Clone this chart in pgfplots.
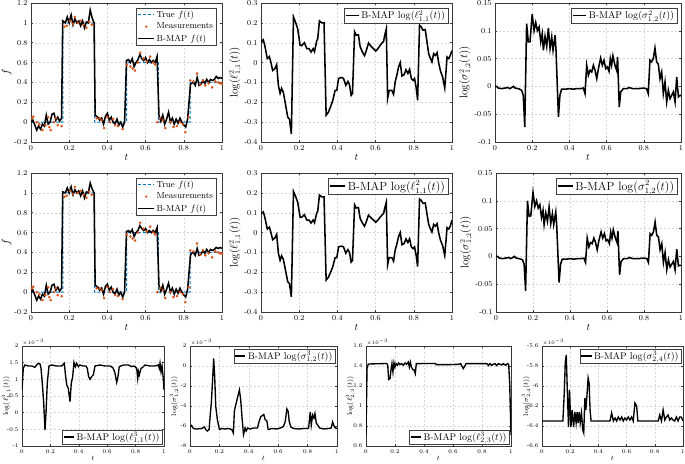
\documentclass[border=0pt]{standalone}
\usepackage{pgfplots}
\pgfplotsset{compat=1.18}
\usepackage{pgfplotstable}
\definecolor{mblue}{rgb}{0,0.447,0.741}
\definecolor{morange}{rgb}{0.85,0.325,0.098}
\newcommand{\fs}[1]{\fontsize{#1}{#1}\selectfont}

\pgfplotstableread{
t f
0 0
0.16666 0
0.16667 1
0.33333 1
0.33334 0
0.5 0
0.50001 0.6
0.66666 0.6
0.66667 0
0.83333 0
0.83334 0.4
1 0.4
}\ftrue

\pgfplotstableread{
t f
0.005 0.04
0.012 0.055
0.03 0.0
0.044 -0.02
0.06 -0.08
0.075 -0.03
0.09 0.05
0.096 -0.05
0.103 -0.08
0.12 0.0
0.13 0.04
0.14 -0.03
0.16 -0.04
0.175 0.96
0.187 0.97
0.205 1.02
0.22 0.99
0.23 1.06
0.245 1.00
0.26 1.02
0.275 0.98
0.29 0.95
0.305 1.01
0.318 0.98
0.344 0.04
0.36 0.04
0.37 0.02
0.383 -0.06
0.40 0.05
0.414 0.0
0.43 0.03
0.44 -0.03
0.455 -0.04
0.48 -0.07
0.502 0.58
0.52 0.56
0.533 0.54
0.545 0.52
0.56 0.6
0.572 0.70
0.59 0.64
0.607 0.61
0.624 0.66
0.64 0.60
0.65 0.58
0.662 0.0
0.676 0.04
0.69 0.02
0.703 -0.06
0.73 0.0
0.746 -0.05
0.764 -0.04
0.78 0.0
0.795 -0.02
0.808 -0.10
0.825 0.05
0.834 0.42
0.85 0.41
0.869 0.49
0.886 0.38
0.90 0.42
0.913 0.37
0.93 0.39
0.948 0.35
0.965 0.41
0.98 0.40
0.99 0.39
1.0 0.39
}\fmeas

\pgfplotstableread{
t f
0 0.00
0.01 0.02
0.02 -0.03
0.03 -0.08
0.04 -0.04
0.05 -0.07
0.06 -0.02
0.07 -0.04
0.08 0.07
0.09 -0.02
0.10 0.00
0.11 0.08
0.12 0.09
0.13 0.02
0.14 0.05
0.15 0.01
0.16 0.04
0.166 1.02
0.18 1.00
0.19 1.06
0.20 1.00
0.21 1.08
0.22 0.98
0.23 1.04
0.24 1.00
0.25 1.02
0.26 0.97
0.27 1.02
0.28 0.95
0.29 1.01
0.30 1.00
0.31 1.13
0.32 1.05
0.33 1.00
0.336 0.07
0.35 0.05
0.36 0.02
0.37 0.04
0.38 -0.02
0.39 0.06
0.40 0.09
0.41 0.02
0.42 0.05
0.43 0.00
0.44 -0.02
0.45 0.03
0.46 -0.03
0.47 0.00
0.48 -0.05
0.49 0.00
0.50 0.62
0.51 0.63
0.52 0.60
0.53 0.64
0.54 0.56
0.55 0.60
0.56 0.63
0.57 0.68
0.58 0.64
0.59 0.62
0.60 0.65
0.61 0.60
0.62 0.63
0.63 0.60
0.64 0.62
0.65 0.60
0.66 0.66
0.67 0.07
0.68 0.01
0.69 0.07
0.70 -0.02
0.71 0.03
0.72 0.10
0.73 0.00
0.74 0.04
0.75 -0.02
0.76 0.03
0.77 -0.01
0.78 0.04
0.79 0.00
0.80 -0.03
0.81 -0.05
0.82 0.03
0.835 0.38
0.84 0.39
0.85 0.40
0.86 0.37
0.87 0.45
0.88 0.37
0.89 0.38
0.90 0.42
0.91 0.39
0.92 0.43
0.93 0.40
0.94 0.43
0.95 0.42
0.96 0.43
0.97 0.46
0.98 0.44
0.99 0.45
1.00 0.44
}\fmapA

\pgfplotstableread{
t f
0 0.00
0.01 0.02
0.02 -0.03
0.03 -0.08
0.04 -0.04
0.05 -0.07
0.06 -0.02
0.07 -0.04
0.08 0.07
0.09 -0.02
0.10 0.00
0.11 0.07
0.12 0.08
0.13 0.02
0.14 0.05
0.15 0.01
0.16 0.04
0.166 1.01
0.18 1.00
0.19 1.05
0.20 1.00
0.21 1.06
0.22 0.98
0.23 1.03
0.24 1.00
0.25 1.02
0.26 0.97
0.27 1.02
0.28 0.95
0.29 1.01
0.30 1.00
0.31 1.10
0.32 1.04
0.33 1.00
0.336 0.07
0.35 0.05
0.36 0.02
0.37 0.04
0.38 -0.02
0.39 0.06
0.40 0.08
0.41 0.02
0.42 0.05
0.43 0.00
0.44 -0.02
0.45 0.03
0.46 -0.03
0.47 0.00
0.48 -0.05
0.49 0.00
0.50 0.61
0.51 0.62
0.52 0.60
0.53 0.63
0.54 0.56
0.55 0.60
0.56 0.62
0.57 0.67
0.58 0.64
0.59 0.62
0.60 0.64
0.61 0.60
0.62 0.62
0.63 0.60
0.64 0.62
0.65 0.60
0.66 0.65
0.67 0.07
0.68 0.01
0.69 0.07
0.70 -0.02
0.71 0.03
0.72 0.09
0.73 0.00
0.74 0.04
0.75 -0.02
0.76 0.03
0.77 -0.01
0.78 0.04
0.79 0.00
0.80 -0.03
0.81 -0.05
0.82 0.03
0.835 0.37
0.84 0.39
0.85 0.40
0.86 0.37
0.87 0.44
0.88 0.37
0.89 0.38
0.90 0.42
0.91 0.39
0.92 0.43
0.93 0.40
0.94 0.43
0.95 0.42
0.96 0.43
0.97 0.45
0.98 0.44
0.99 0.45
1.00 0.44
}\fmapB

\pgfplotstableread{
t v
0 0.105
0.012 0.115
0.02 0.085
0.033 0.02
0.044 0.03
0.052 0.0
0.061 -0.04
0.073 -0.03
0.082 -0.01
0.091 -0.115
0.1 -0.155
0.108 -0.13
0.117 -0.15
0.13 -0.22
0.14 -0.275
0.149 -0.285
0.159 -0.36
0.17 0.23
0.182 0.2
0.192 0.17
0.205 0.087
0.213 0.085
0.227 0.1
0.24 0.07
0.252 0.07
0.262 0.053
0.273 0.07
0.28 0.055
0.292 0.11
0.297 0.12
0.306 0.21
0.318 0.2
0.33 0.2
0.341 -0.265
0.353 -0.25
0.367 -0.215
0.376 -0.19
0.388 -0.14
0.397 -0.14
0.406 -0.08
0.423 -0.075
0.432 -0.08
0.444 -0.115
0.455 -0.095
0.463 -0.11
0.472 -0.165
0.479 -0.155
0.49 0.155
0.498 0.138
0.51 0.14
0.519 0.08
0.531 0.053
0.542 0.035
0.551 0.06
0.563 0.098
0.575 0.083
0.589 0.07
0.601 0.058
0.612 0.07
0.624 0.087
0.633 0.098
0.642 0.107
0.647 0.134
0.656 0.17
0.663 -0.18
0.671 -0.14
0.685 -0.14
0.694 -0.16
0.703 -0.095
0.711 -0.065
0.72 -0.023
0.729 0.0
0.738 -0.068
0.75 -0.06
0.759 -0.036
0.769 -0.055
0.778 -0.034
0.787 -0.08
0.796 -0.09
0.804 -0.08
0.813 -0.13
0.82 -0.19
0.83 0.188
0.839 0.18
0.848 0.163
0.86 0.166
0.869 0.104
0.878 0.045
0.886 0.023
0.895 0.003
0.904 0.045
0.913 0.036
0.922 0.05
0.93 0.0
0.939 -0.04
0.951 -0.073
0.962 -0.128
0.969 -0.04
0.974 0.028
0.983 0.02
0.991 0.036
1.0 0.06
}\lA

\pgfplotstableread{
t v
0 0.095
0.012 0.104
0.02 0.077
0.033 0.018
0.044 0.027
0.052 0.0
0.061 -0.036
0.073 -0.027
0.082 -0.009
0.091 -0.104
0.1 -0.14
0.108 -0.117
0.117 -0.135
0.13 -0.198
0.14 -0.248
0.149 -0.257
0.159 -0.324
0.17 0.207
0.182 0.18
0.192 0.153
0.205 0.078
0.213 0.077
0.227 0.09
0.24 0.063
0.252 0.063
0.262 0.048
0.273 0.063
0.28 0.05
0.292 0.099
0.297 0.108
0.306 0.189
0.318 0.18
0.33 0.18
0.341 -0.239
0.353 -0.225
0.367 -0.194
0.376 -0.171
0.388 -0.126
0.397 -0.126
0.406 -0.072
0.423 -0.068
0.432 -0.072
0.444 -0.104
0.455 -0.086
0.463 -0.099
0.472 -0.149
0.479 -0.14
0.49 0.14
0.498 0.124
0.51 0.126
0.519 0.072
0.531 0.048
0.542 0.032
0.551 0.054
0.563 0.088
0.575 0.075
0.589 0.063
0.601 0.052
0.612 0.063
0.624 0.078
0.633 0.088
0.642 0.096
0.647 0.121
0.656 0.153
0.663 -0.162
0.671 -0.126
0.685 -0.126
0.694 -0.144
0.703 -0.086
0.711 -0.059
0.72 -0.021
0.729 0.0
0.738 -0.061
0.75 -0.054
0.759 -0.032
0.769 -0.05
0.778 -0.031
0.787 -0.072
0.796 -0.081
0.804 -0.072
0.813 -0.117
0.82 -0.171
0.83 0.169
0.839 0.162
0.848 0.147
0.86 0.149
0.869 0.094
0.878 0.041
0.886 0.021
0.895 0.003
0.904 0.041
0.913 0.032
0.922 0.045
0.93 0.0
0.939 -0.036
0.951 -0.066
0.962 -0.115
0.969 -0.036
0.974 0.025
0.983 0.018
0.991 0.032
1.0 0.063
}\lB

\pgfplotstableread{
t v
0 0.0
0.009 0.0
0.018 -0.003
0.036 -0.004
0.054 -0.003
0.068 -0.002
0.08 -0.004
0.09 -0.002
0.1 0.0
0.108 -0.003
0.125 -0.004
0.143 -0.007
0.152 -0.016
0.16 -0.073
0.17 0.113
0.179 0.08
0.188 0.08
0.2 0.13
0.21 0.1
0.219 0.115
0.228 0.1
0.237 0.107
0.246 0.08
0.254 0.095
0.26 0.065
0.269 0.09
0.278 0.072
0.287 0.105
0.296 0.068
0.305 0.089
0.312 0.065
0.323 0.092
0.328 0.065
0.341 -0.055
0.349 -0.016
0.358 -0.005
0.38 -0.005
0.40 -0.004
0.42 -0.005
0.44 -0.004
0.46 -0.004
0.475 -0.003
0.484 -0.013
0.493 0.038
0.502 0.02
0.511 0.029
0.52 0.026
0.529 0.038
0.538 0.029
0.547 0.014
0.556 0.032
0.568 0.051
0.577 0.038
0.586 0.047
0.595 0.032
0.604 0.035
0.613 0.027
0.62 0.05
0.627 0.038
0.634 0.055
0.645 0.038
0.654 0.029
0.659 0.053
0.668 -0.037
0.676 -0.01
0.69 -0.004
0.71 -0.004
0.72 -0.002
0.74 -0.004
0.77 -0.004
0.80 -0.003
0.815 -0.004
0.824 -0.013
0.833 0.047
0.842 0.044
0.851 0.05
0.86 0.069
0.869 0.044
0.878 0.04
0.887 0.014
0.896 0.026
0.905 -0.013
0.914 0.008
0.923 -0.028
0.932 -0.007
0.941 -0.022
0.95 -0.016
0.959 -0.01
0.968 -0.028
0.977 0.017
0.986 -0.019
0.995 -0.016
1.0 -0.017
}\sA

\pgfplotstableread{
t v
0 0.0
0.009 0.0
0.018 -0.003
0.036 -0.004
0.054 -0.003
0.068 -0.002
0.08 -0.004
0.09 -0.002
0.1 0.0
0.108 -0.003
0.125 -0.004
0.143 -0.006
0.152 -0.014
0.16 -0.062
0.17 0.1
0.179 0.072
0.188 0.073
0.2 0.115
0.21 0.09
0.219 0.1
0.228 0.087
0.237 0.093
0.246 0.07
0.254 0.083
0.26 0.057
0.269 0.078
0.278 0.063
0.287 0.089
0.296 0.059
0.305 0.077
0.312 0.057
0.323 0.08
0.328 0.057
0.341 -0.047
0.349 -0.014
0.358 -0.005
0.38 -0.005
0.40 -0.004
0.42 -0.005
0.44 -0.004
0.46 -0.004
0.475 -0.003
0.484 -0.011
0.493 0.033
0.502 0.017
0.511 0.025
0.52 0.023
0.529 0.033
0.538 0.025
0.547 0.012
0.556 0.028
0.568 0.044
0.577 0.033
0.586 0.041
0.595 0.028
0.604 0.03
0.613 0.023
0.62 0.044
0.627 0.033
0.634 0.048
0.645 0.033
0.654 0.025
0.659 0.046
0.668 -0.033
0.676 -0.009
0.69 -0.004
0.71 -0.004
0.72 -0.002
0.74 -0.004
0.77 -0.004
0.80 -0.003
0.815 -0.004
0.824 -0.011
0.833 0.041
0.842 0.038
0.851 0.044
0.86 0.062
0.869 0.038
0.878 0.035
0.887 0.012
0.896 0.023
0.905 -0.011
0.914 0.007
0.923 -0.024
0.932 -0.006
0.941 -0.019
0.95 -0.014
0.959 -0.009
0.968 -0.024
0.977 0.013
0.986 -0.017
0.995 -0.016
1.0 -0.016
}\sB

\pgfplotstableread{
t v
0 0.68
0.009 1.33
0.02 1.43
0.045 1.40
0.07 1.40
0.08 1.38
0.09 1.36
0.103 1.43
0.115 1.48
0.127 1.46
0.134 1.33
0.143 0.88
0.153 0.28
0.162 -0.52
0.169 -0.02
0.178 0.88
0.19 1.40
0.209 1.43
0.244 1.40
0.279 1.40
0.298 1.48
0.305 1.18
0.315 0.83
0.326 0.73
0.338 0.33
0.347 0.88
0.357 1.08
0.366 1.51
0.376 1.38
0.385 1.48
0.397 1.38
0.408 1.43
0.432 1.40
0.45 1.40
0.46 1.33
0.469 1.08
0.479 1.00
0.49 1.08
0.502 1.13
0.514 1.40
0.55 1.43
0.584 1.40
0.62 1.40
0.631 1.38
0.643 1.33
0.655 1.18
0.667 0.91
0.676 1.08
0.685 1.38
0.714 1.43
0.75 1.43
0.772 1.38
0.784 1.40
0.796 1.38
0.808 1.33
0.815 1.03
0.82 1.23
0.826 1.13
0.838 1.33
0.85 1.36
0.866 1.43
0.901 1.40
0.937 1.40
0.96 1.43
0.967 1.33
0.972 1.48
0.979 1.23
0.986 1.40
0.995 1.03
1.0 0.68
}\lC

\pgfplotstableread{
t v
0 -6.1
0.011 -5.95
0.023 -6.25
0.045 -6.3
0.08 -6.25
0.098 -6.1
0.107 -6.35
0.118 -6.5
0.13 -6.35
0.136 -5.2
0.145 -3.7
0.155 -1.05
0.161 0.75
0.168 -1.05
0.175 -4.0
0.186 -5.35
0.2 -6.35
0.216 -6.25
0.239 -6.3
0.261 -6.25
0.284 -6.35
0.295 -6.7
0.302 -4.5
0.311 -3.9
0.325 -3.05
0.336 -2.4
0.345 -3.4
0.355 -5.35
0.364 -6.85
0.375 -6.2
0.382 -6.5
0.393 -6.2
0.409 -6.3
0.432 -6.2
0.459 -6.2
0.47 -5.55
0.482 -5.05
0.493 -4.95
0.502 -4.85
0.511 -5.35
0.523 -5.5
0.532 -6.35
0.557 -6.25
0.591 -6.3
0.614 -6.2
0.636 -6.05
0.648 -5.55
0.659 -4.3
0.668 -4.55
0.675 -5.55
0.686 -6.1
0.705 -6.25
0.739 -6.3
0.773 -6.25
0.795 -6.25
0.807 -6.2
0.818 -4.6
0.825 -5.9
0.834 -4.9
0.843 -5.2
0.85 -4.75
0.859 -5.7
0.868 -5.9
0.882 -6.2
0.909 -6.3
0.943 -6.25
0.961 -6.2
0.97 -5.6
0.98 -6.0
0.989 -6.2
1.0 -6.25
}\sC

\pgfplotstableread{
t v
0 0.71
0.007 1.374
0.016 1.42
0.143 1.425
0.15 1.407
0.156 1.265
0.166 1.275
0.172 1.357
0.179 1.424
0.186 1.34
0.193 1.434
0.2 1.39
0.207 1.424
0.216 1.407
0.225 1.43
0.234 1.414
0.246 1.424
0.257 1.407
0.269 1.43
0.28 1.417
0.292 1.44
0.299 1.39
0.306 1.437
0.313 1.39
0.322 1.364
0.331 1.364
0.34 1.324
0.347 1.424
0.48 1.425
0.483 1.414
0.51 1.414
0.58 1.414
0.637 1.417
0.653 1.424
0.662 1.397
0.671 1.374
0.68 1.397
0.69 1.424
0.832 1.424
0.838 1.417
0.844 1.404
0.855 1.424
0.867 1.407
0.878 1.417
0.89 1.424
0.901 1.404
0.913 1.424
0.925 1.417
0.936 1.41
0.947 1.424
0.963 1.407
0.975 1.424
0.984 1.417
0.991 1.225
1.0 0.71
}\lD

\pgfplotstableread{
t v
0 -6.35
0.148 -6.35
0.158 -6.07
0.165 -5.76
0.172 -5.69
0.181 -6.11
0.188 -6.41
0.195 -6.04
0.205 -6.41
0.214 -6.24
0.224 -6.41
0.233 -6.26
0.242 -6.37
0.249 -6.26
0.256 -6.37
0.264 -6.26
0.271 -6.37
0.28 -6.27
0.289 -6.44
0.296 -6.47
0.304 -6.12
0.311 -6.24
0.318 -6.11
0.327 -5.92
0.334 -5.97
0.341 -6.24
0.348 -6.35
0.482 -6.35
0.494 -6.27
0.506 -6.35
0.518 -6.32
0.529 -6.35
0.541 -6.31
0.553 -6.34
0.565 -6.31
0.576 -6.35
0.588 -6.32
0.6 -6.34
0.612 -6.31
0.624 -6.34
0.635 -6.31
0.647 -6.35
0.659 -6.17
0.671 -6.20
0.68 -6.35
0.824 -6.35
0.835 -6.29
0.847 -6.35
0.859 -6.24
0.871 -6.34
0.882 -6.31
0.894 -6.29
0.906 -6.34
0.918 -6.32
0.929 -6.34
0.941 -6.35
0.953 -6.31
0.965 -6.35
0.976 -6.31
0.988 -6.31
1.0 -6.35
}\sD

\pgfplotsset{
  mat/.style={scale only axis, anchor=south west, xmin=0, xmax=1,
    xtick={0,0.2,0.4,0.6,0.8,1},
    grid=major, major grid style={dash pattern=on 2.2pt off 1.8pt, black!16, line width=0.4pt},
    axis line style={black!78, line width=0.45pt},
    tick style={black!78, line width=0.45pt}, tick align=inside,
    major tick length=2.2pt,
    xlabel={$t$},
    legend cell align=left,
    legend style={draw=black!75, line width=0.45pt, inner xsep=1pt, inner ysep=0.5pt, row sep=-1pt, fill=white},
    /pgf/number format/fixed,
    /pgf/number format/assume math mode=true,
    scaled ticks=false,
  },
  bigp/.style={mat, height=139pt,
    tick label style={font=\fs{7.6}},
    ylabel style={font=\fs{10.5}, yshift=-4pt},
    xlabel style={font=\fs{10}, yshift=3pt}},
  smallp/.style={mat, height=100pt,
    tick label style={font=\fs{5.8}},
    ylabel style={font=\fs{7.2}, at={(rel axis cs:0,0.5)}, anchor=center, yshift=15.5pt},
    xlabel style={font=\fs{7.5}, yshift=4pt},
    major tick length=1.8pt,
    legend style={font=\fs{9.6}, inner xsep=0.8pt, inner ysep=0pt},
    legend image code/.code={\draw[##1] (0cm,0cm) -- (0.36cm,0cm);},
    extra description/.code={\node[anchor=south west, font=\fs{4.6}, inner sep=0.3pt] at (0,1) {$\times10^{-3}$};}},
  bmap/.style={black, line width=1.55pt},
  bmaps/.style={black, line width=1.35pt},
}

\begin{document}
\begin{tikzpicture}
\path[use as bounding box] (0,0) rectangle (685pt,463pt);

% ---- Row 1 ----
\begin{axis}[bigp, at={(31pt,321pt)}, width=191pt,
  ymin=-0.2, ymax=1.2, ytick={-0.2,0,0.2,0.4,0.6,0.8,1,1.2}, ylabel={$f$},
  legend image code/.code={\draw[#1] (0cm,0cm) -- (0.55cm,0cm);},
  legend style={at={(0.97,0.965)}, anchor=north east, font=\fs{8.8}, row sep=0pt}]
\addplot[mblue, line width=1pt, dash pattern=on 3pt off 2pt] table {\ftrue};
\addlegendentry{True $f(t)$}
\addplot[only marks, mark=*, mark size=1.1pt, morange, draw=morange,
  legend image code/.code={\fill[morange] (0.28cm,0cm) circle (0.9pt);}] table {\fmeas};
\addlegendentry{Measurements}
\addplot[bmap] table {\fmapA};
\addlegendentry{B-MAP $f(t)$}
\end{axis}

\begin{axis}[bigp, at={(261pt,321pt)}, width=191pt,
  ymin=-0.4, ymax=0.3, ytick={-0.4,-0.3,-0.2,-0.1,0,0.1,0.2,0.3}, ylabel={$\log(\ell^2_{1,1}(t))$},
  legend image code/.code={\draw[#1] (0cm,0cm) -- (0.46cm,0cm);},
  legend style={at={(0.98,0.965)}, anchor=north east, font=\fs{9.8}}]
\addplot[bmap] table {\lA};
\addlegendentry{B-MAP $\log(\ell^2_{1,1}(t))$}
\end{axis}

\begin{axis}[bigp, at={(495pt,321pt)}, width=186pt,
  ymin=-0.1, ymax=0.15, ytick={-0.1,-0.05,0,0.05,0.1,0.15}, ylabel={$\log(\sigma^2_{1,2}(t))$},
  legend image code/.code={\draw[#1] (0cm,0cm) -- (0.46cm,0cm);},
  legend style={at={(0.98,0.965)}, anchor=north east, font=\fs{9.8}}]
\addplot[bmap] table {\sA};
\addlegendentry{B-MAP $\log(\sigma^2_{1,2}(t))$}
\end{axis}

% ---- Row 2 ----
\begin{axis}[bigp, at={(31pt,151pt)}, width=191pt,
  ymin=-0.2, ymax=1.2, ytick={-0.2,0,0.2,0.4,0.6,0.8,1,1.2}, ylabel={$f$},
  legend image code/.code={\draw[#1] (0cm,0cm) -- (0.55cm,0cm);},
  legend style={at={(0.97,0.965)}, anchor=north east, font=\fs{8.8}, row sep=0pt}]
\addplot[mblue, line width=1pt, dash pattern=on 3pt off 2pt] table {\ftrue};
\addlegendentry{True $f(t)$}
\addplot[only marks, mark=*, mark size=1.1pt, morange, draw=morange,
  legend image code/.code={\fill[morange] (0.28cm,0cm) circle (0.9pt);}] table {\fmeas};
\addlegendentry{Measurements}
\addplot[bmap] table {\fmapB};
\addlegendentry{B-MAP $f(t)$}
\end{axis}

\begin{axis}[bigp, at={(261pt,151pt)}, width=191pt,
  ymin=-0.4, ymax=0.3, ytick={-0.4,-0.3,-0.2,-0.1,0,0.1,0.2,0.3}, ylabel={$\log(\ell^2_{1,1}(t))$},
  legend image code/.code={\draw[#1] (0cm,0cm) -- (0.52cm,0cm);},
  legend style={at={(0.98,0.965)}, anchor=north east, font=\fs{11.8}}]
\addplot[bmap] table {\lB};
\addlegendentry{B-MAP $\log(\ell^2_{1,1}(t))$}
\end{axis}

\begin{axis}[bigp, at={(496pt,151pt)}, width=185pt,
  ymin=-0.1, ymax=0.15, ytick={-0.1,-0.05,0,0.05,0.1,0.15}, ylabel={$\log(\sigma^2_{1,2}(t))$},
  legend image code/.code={\draw[#1] (0cm,0cm) -- (0.52cm,0cm);},
  legend style={at={(0.98,0.965)}, anchor=north east, font=\fs{11.8}}]
\addplot[bmap] table {\sB};
\addlegendentry{B-MAP $\log(\sigma^2_{1,2}(t))$}
\end{axis}

% ---- Row 3 ----
\begin{axis}[smallp, at={(22pt,17pt)}, width=142pt,
  ymin=-1, ymax=2, ytick={-1,-0.5,0,0.5,1,1.5,2}, ylabel={$\log(\ell^3_{1,1}(t))$},
  legend style={at={(0.99,0.02)}, anchor=south east}]
\addplot[bmaps] table {\lC};
\addlegendentry{B-MAP $\log(\ell^3_{1,1}(t))$}
\end{axis}

\begin{axis}[smallp, at={(190pt,17pt)}, width=147pt,
  ymin=-8, ymax=2, ytick={-8,-6,-4,-2,0,2}, ylabel={$\log(\sigma^3_{1,2}(t))$},
  legend style={at={(0.99,0.97)}, anchor=north east}]
\addplot[bmaps] table {\sC};
\addlegendentry{B-MAP $\log(\sigma^3_{1,2}(t))$}
\end{axis}

\begin{axis}[smallp, at={(366pt,17pt)}, width=145pt,
  ymin=0.6, ymax=1.6, ytick={0.6,0.8,1,1.2,1.4,1.6}, ylabel={$\log(\ell^3_{2,3}(t))$},
  legend style={at={(0.99,0.02)}, anchor=south east}]
\addplot[bmaps] table {\lD};
\addlegendentry{B-MAP $\log(\ell^3_{2,3}(t))$}
\end{axis}

\begin{axis}[smallp, at={(542pt,17pt)}, width=141pt,
  ymin=-6.6, ymax=-5.6, ytick={-6.6,-6.4,-6.2,-6,-5.8,-5.6}, ylabel={$\log(\sigma^3_{2,4}(t))$},
  legend style={at={(0.99,0.97)}, anchor=north east}]
\addplot[bmaps] table {\sD};
\addlegendentry{B-MAP $\log(\sigma^3_{2,4}(t))$}
\end{axis}
\end{tikzpicture}
\end{document}
